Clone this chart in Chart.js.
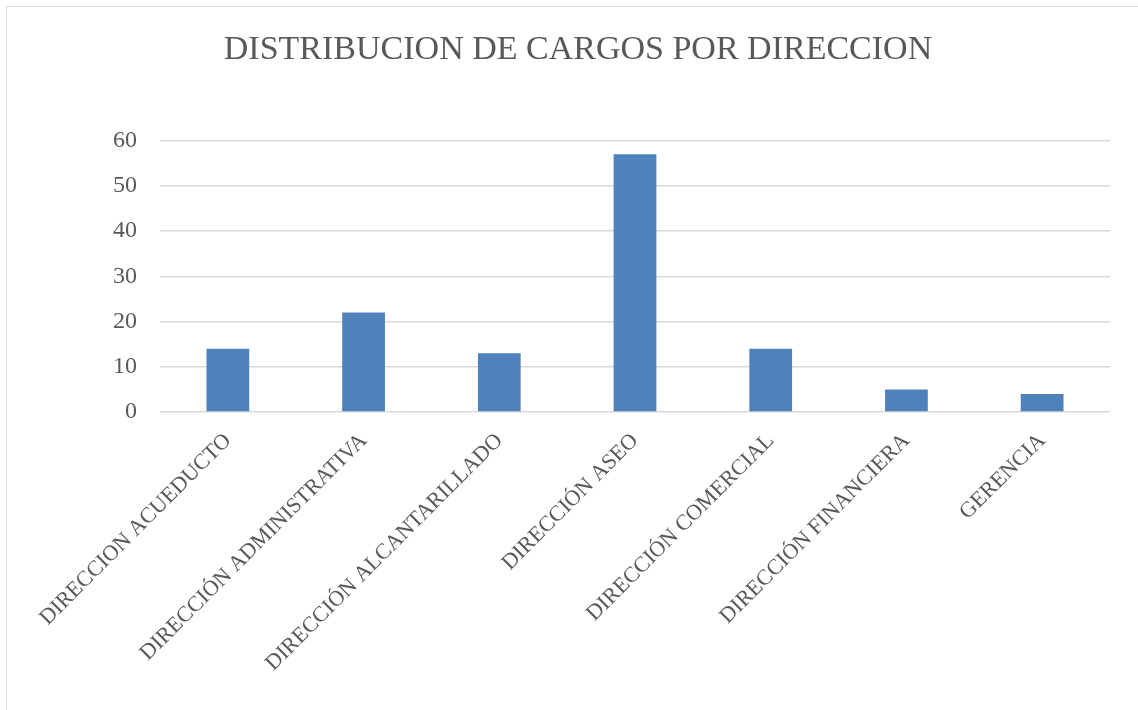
<!DOCTYPE html>
<html>
<head>
<meta charset="utf-8">
<script src="https://cdn.jsdelivr.net/npm/chart.js@4/dist/chart.umd.min.js"></script>
<style>
  body { margin: 0; background: #fff; }
  #frame { position: absolute; left: 6px; top: 6px; width: 1200px; height: 800px; border: 1px solid #d9d9d9; }
  #wrap { position: absolute; left: 0; top: 0; width: 1138px; height: 710px; }
</style>
</head>
<body>
<div id="frame"></div>
<div id="wrap"><canvas id="chart"></canvas></div>
<script>
// Categories and values
const categories = [
  "DIRECCION ACUEDUCTO",
  "DIRECCIÓN ADMINISTRATIVA",
  "DIRECCIÓN ALCANTARILLADO",
  "DIRECCIÓN ASEO",
  "DIRECCIÓN COMERCIAL",
  "DIRECCIÓN FINANCIERA",
  "GERENCIA"
];
const cargos = [14, 22, 13, 57, 14, 5, 4];
const yTicks = [0, 10, 20, 30, 40, 50, 60];

const serif = "'Liberation Serif', 'DejaVu Serif', serif";
const gray = '#595959';

const ctx = document.getElementById('chart').getContext('2d');
new Chart(ctx, {
  type: 'bar',
  data: {
    labels: categories,
    datasets: [{
      label: 'Cargos',
      data: cargos,
      backgroundColor: '#4f81bd',
      barPercentage: 0.63,
      categoryPercentage: 0.5
    }]
  },
  options: {
    responsive: true,
    maintainAspectRatio: false,
    animation: false,
    layout: { padding: { left: 18, right: 0, top: 0, bottom: 0 } },
    plugins: {
      legend: { display: false },
      tooltip: { enabled: false },
      title: {
        display: true,
        text: 'DISTRIBUCION DE CARGOS POR DIRECCION',
        color: gray,
        font: { size: 34, family: serif, weight: 'normal' },
        padding: { top: 30, bottom: 70 }
      }
    },
    scales: {
      x: {
        grid: { display: false },
        border: { display: false },
        ticks: {
          color: gray,
          font: { size: 22, family: serif },
          minRotation: 45,
          maxRotation: 45,
          padding: 8
        },
        afterFit: (scale) => { scale.height = 298; }
      },
      y: {
        min: 0,
        max: 60,
        afterBuildTicks: (scale) => { scale.ticks = yTicks.map(v => ({ value: v })); },
        grid: { color: '#d9d9d9', lineWidth: 1.5, drawTicks: false },
        border: { display: false },
        ticks: {
          color: gray,
          font: { size: 24, family: serif },
          padding: 23
        },
        afterFit: (scale) => { scale.width = 142; }
      },
      // empty spacer on the right side of the plot
      spacer: {
        type: 'linear',
        position: 'right',
        display: true,
        grid: { display: false },
        border: { display: false },
        ticks: { display: false },
        afterFit: (scale) => { scale.width = 28; }
      }
    }
  }
});
</script>
</body>
</html>
